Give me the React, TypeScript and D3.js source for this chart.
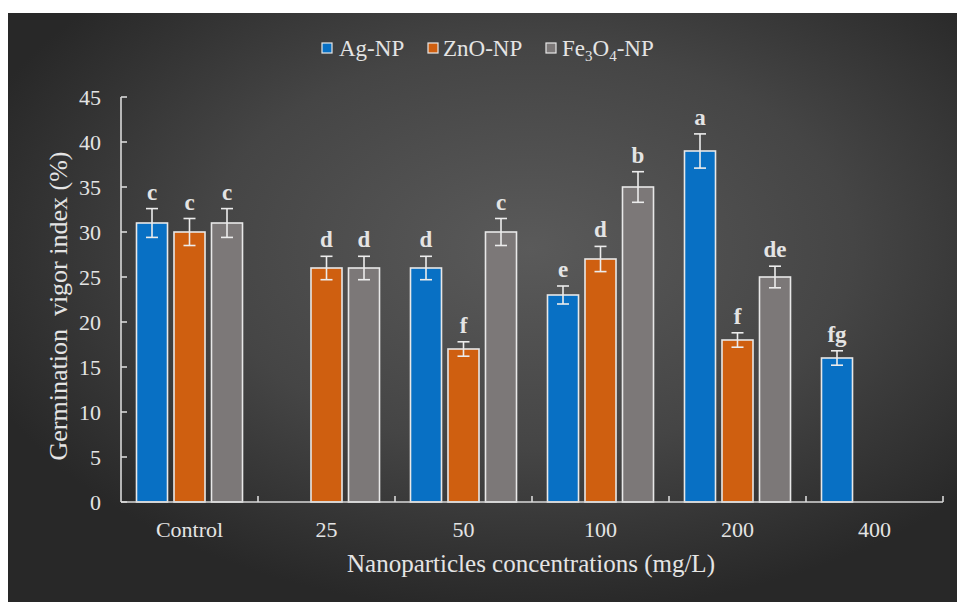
import React from "react";
import * as d3 from "d3";

const categories = ["Control", "25", "50", "100", "200", "400"];
const seriesNames = ["Ag-NP", "ZnO-NP", "Fe3O4-NP"];
const agValues = [31, null, 26, 23, 39, 16];
const znoValues = [30, 26, 17, 27, 18, null];
const feValues = [31, 26, 30, 35, 25, null];
const agErrors = [1.6, null, 1.3, 1.0, 1.9, 0.8];
const znoErrors = [1.5, 1.3, 0.8, 1.4, 0.8, null];
const feErrors = [1.6, 1.3, 1.5, 1.7, 1.2, null];
const agLetters = ["c", "", "d", "e", "a", "fg"];
const znoLetters = ["c", "d", "f", "d", "f", ""];
const feLetters = ["c", "d", "c", "b", "de", ""];
const yTicks = [0, 5, 10, 15, 20, 25, 30, 35, 40, 45];

const colors = ["#0870c4", "#cf5f10", "#7c7878"];
const FONT = "'Liberation Serif', 'Times New Roman', serif";
const TXT = "#e4e4e4";

export default function App() {
  const W = 957, H = 602;
  const x0 = 121, x1 = 943;
  const x = d3.scaleBand<string>().domain(categories).range([x0, x1]);
  const inner = d3
    .scaleBand<string>()
    .domain(seriesNames)
    .range([-56.25, 56.25])
    .paddingInner(0.173)
    .paddingOuter(0.0865);
  const y = d3.scaleLinear().domain([0, 45]).range([502, 97]);

  const values = [agValues, znoValues, feValues];
  const errors = [agErrors, znoErrors, feErrors];
  const letters = [agLetters, znoLetters, feLetters];

  const bars: React.ReactNode[] = [];
  categories.forEach((c, ci) => {
    seriesNames.forEach((s, si) => {
      const v = values[si][ci];
      if (v == null) return;
      const e = errors[si][ci] as number;
      const bx = (x(c) as number) + x.bandwidth() / 2 + (inner(s) as number);
      const bw = inner.bandwidth();
      const cx = bx + bw / 2;
      bars.push(
        <g key={c + s}>
          <rect
            x={bx}
            y={y(v)}
            width={bw}
            height={y(0) - y(v)}
            fill={colors[si]}
            stroke="#e8e8e8"
            strokeWidth={1.6}
          />
          <line x1={cx} x2={cx} y1={y(v + e)} y2={y(v - e)} stroke="#ececec" strokeWidth={1.6} />
          <line x1={cx - 6} x2={cx + 6} y1={y(v + e)} y2={y(v + e)} stroke="#ececec" strokeWidth={1.6} />
          <line x1={cx - 6} x2={cx + 6} y1={y(v - e)} y2={y(v - e)} stroke="#ececec" strokeWidth={1.6} />
          <text
            x={cx}
            y={y(v + e) - 9}
            textAnchor="middle"
            fontFamily={FONT}
            fontWeight="bold"
            fontSize={23}
            fill={TXT}
          >
            {letters[si][ci]}
          </text>
        </g>
      );
    });
  });

  const legendItems = [
    { sx: 322, tx: 339, label: <tspan>Ag-NP</tspan> },
    { sx: 428, tx: 443, label: <tspan>ZnO-NP</tspan> },
    {
      sx: 546,
      tx: 562,
      label: (
        <>
          <tspan>Fe</tspan>
          <tspan fontSize={15} dy={5}>3</tspan>
          <tspan dy={-5}>O</tspan>
          <tspan fontSize={15} dy={5}>4</tspan>
          <tspan dy={-5}>-NP</tspan>
        </>
      ),
    },
  ];

  return (
    <svg
      width={W}
      height={H}
      style={{ position: "absolute", left: 0, top: 0, display: "block" }}
    >
      <defs>
        <radialGradient id="bg" cx="0.55" cy="0.4" r="0.62">
          <stop offset="0" stopColor="#5a5a5a" />
          <stop offset="0.55" stopColor="#454545" />
          <stop offset="1" stopColor="#282828" />
        </radialGradient>
      </defs>
      <rect x={0} y={0} width={W} height={H} fill="#ffffff" />
      <rect x={8} y={13} width={W - 8} height={H - 13} fill="url(#bg)" />

      {/* legend */}
      {legendItems.map((it, i) => (
        <g key={i}>
          <rect x={it.sx} y={43} width={10} height={10} fill={colors[i]} stroke="#e8e8e8" strokeWidth={1.2} />
          <text x={it.tx} y={56} fontFamily={FONT} fontSize={23} fill={TXT}>
            {it.label}
          </text>
        </g>
      ))}

      {bars}

      {/* y axis */}
      <line x1={x0} x2={x0} y1={y(45)} y2={y(0)} stroke="#d9d9d9" strokeWidth={1.6} />
      {yTicks.map((t) => (
        <g key={t}>
          <line x1={x0} x2={x0 + 6} y1={y(t)} y2={y(t)} stroke="#d9d9d9" strokeWidth={1.6} />
          <text
            x={101}
            y={y(t)}
            dy="0.35em"
            textAnchor="end"
            fontFamily={FONT}
            fontSize={22}
            fill={TXT}
          >
            {t}
          </text>
        </g>
      ))}

      {/* x axis */}
      <line x1={x0} x2={x1} y1={y(0)} y2={y(0)} stroke="#d9d9d9" strokeWidth={1.6} />
      {categories.map((c) => {
        const tx = (x(c) as number) + x.bandwidth();
        return (
          <line key={"t" + c} x1={tx} x2={tx} y1={y(0)} y2={y(0) - 6} stroke="#d9d9d9" strokeWidth={1.6} />
        );
      })}
      {categories.map((c) => (
        <text
          key={"l" + c}
          x={(x(c) as number) + x.bandwidth() / 2}
          y={537}
          textAnchor="middle"
          fontFamily={FONT}
          fontSize={22}
          fill={TXT}
        >
          {c}
        </text>
      ))}

      <text x={531} y={572} textAnchor="middle" fontFamily={FONT} fontSize={25} fill={TXT}>
        Nanoparticles concentrations (mg/L)
      </text>
      <text
        transform="translate(67,306) rotate(-90)"
        textAnchor="middle"
        fontFamily={FONT}
        fontSize={26}
        fill={TXT}
        style={{ whiteSpace: "pre" }}
      >
        {"Germination  vigor index (%)"}
      </text>
    </svg>
  );
}
